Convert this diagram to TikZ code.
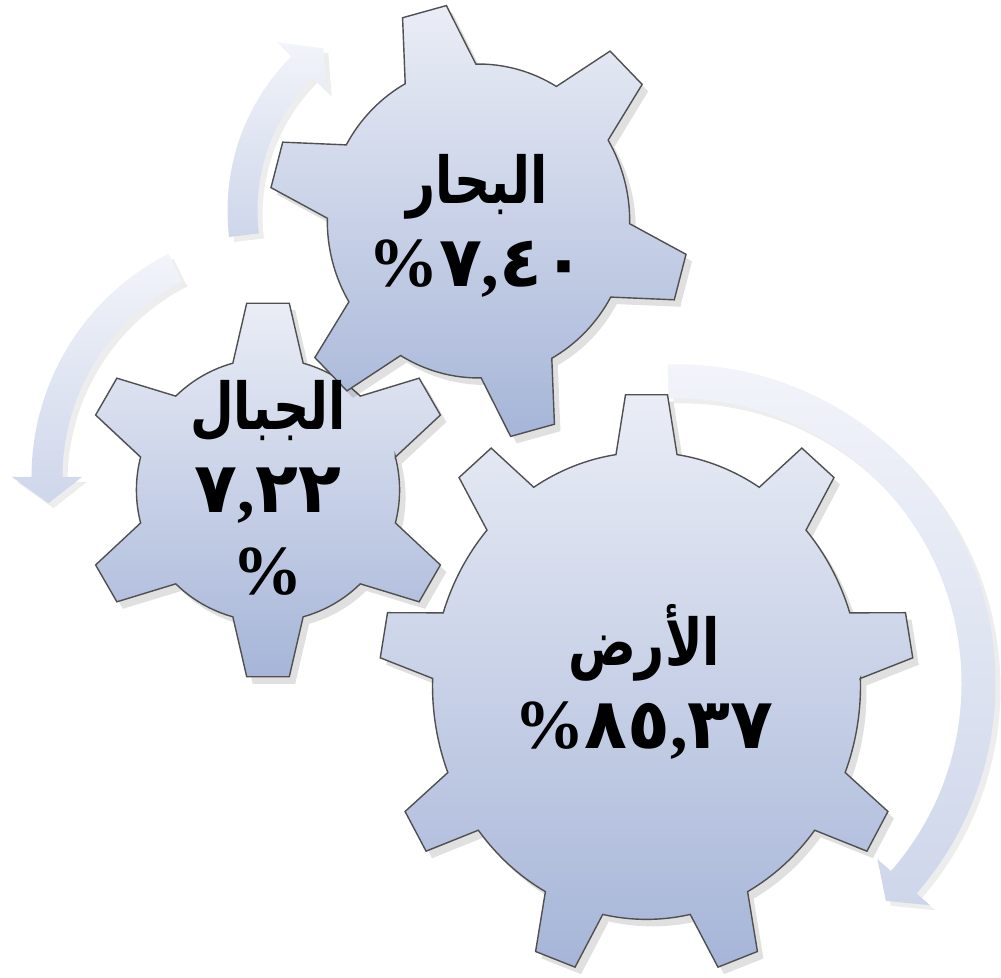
\documentclass[tikz,border=0pt]{standalone}
\usepackage{fontspec}
\setmainfont{Liberation Serif}
\newfontfamily\arabicfont[Script=Arabic, Scale=0.92, FakeStretch=0.78]{DejaVu Sans}
\newfontfamily\digitfont{DejaVu Sans}
\TeXXeTstate=1
\usetikzlibrary{calc}

\definecolor{geartop}{RGB}{234,237,246}
\definecolor{gearbot}{RGB}{166,181,216}
\definecolor{gearline}{RGB}{80,80,80}
\definecolor{arrowtop}{RGB}{242,244,250}
\definecolor{arrowbot}{RGB}{206,214,234}

\tikzset{
  gearbody/.style={draw=gearline, line width=0.4pt, top color=geartop, bottom color=gearbot},
  gearshadow/.style={fill=black, opacity=0.12},
  cyclearrow/.style={top color=arrowtop, bottom color=arrowbot},
  arrowshadow/.style={fill=black, opacity=0.07},
  gearlabel/.style={align=center, inner sep=0pt, font=\fontsize{20}{23.5}\selectfont\bfseries}
}

% #1 Mitte, #2 x-Radius, #3 y-Radius, #4 Zaehne, #5 erster Zahn, #6 Fusskreis, #7 halber Kopf, #8 halber Fuss
\newcommand{\drawgear}[8]{%
  \begin{scope}[shift={#1}, xshift=0.6mm, yshift=-0.7mm, xscale=#2, yscale=#3]
    \pgfmathsetmacro\gstep{360/#4}
    \fill[gearshadow] (#5-#8:#6)
      \foreach \k [evaluate=\k as \ga using #5+(\k-1)*\gstep] in {1,...,#4} {
        -- (\ga-#7:1) -- (\ga+#7:1) -- (\ga+#8:#6)
        arc[start angle=\ga+#8, end angle=\ga+\gstep-#8, radius=#6]
      } -- cycle;
  \end{scope}
  \begin{scope}[shift={#1}, xscale=#2, yscale=#3]
    \pgfmathsetmacro\gstep{360/#4}
    \path[gearbody] (#5-#8:#6)
      \foreach \k [evaluate=\k as \ga using #5+(\k-1)*\gstep] in {1,...,#4} {
        -- (\ga-#7:1) -- (\ga+#7:1) -- (\ga+#8:#6)
        arc[start angle=\ga+#8, end angle=\ga+\gstep-#8, radius=#6]
      } -- cycle;
  \end{scope}}

% #1 Mitte, #2 Radius, #3 halbe Breite, #4 Anfang, #5 Pfeilfuss, #6 Spitze
\newcommand{\drawarrow}[6]{%
  \begin{scope}[xshift=0.5mm, yshift=-0.5mm]
    \fill[arrowshadow] ($#1+(#4:{#2+#3})$) arc[start angle=#4, end angle=#5, radius={#2+#3}]
      -- ($#1+(#5:{#2+35})$) -- ($#1+(#6:#2)$) -- ($#1+(#5:{#2-35})$)
      -- ($#1+(#5:{#2-#3})$) arc[start angle=#5, end angle=#4, radius={#2-#3}] -- cycle;
  \end{scope}
  \path[cyclearrow] ($#1+(#4:{#2+#3})$) arc[start angle=#4, end angle=#5, radius={#2+#3}]
    -- ($#1+(#5:{#2+35})$) -- ($#1+(#6:#2)$) -- ($#1+(#5:{#2-35})$)
    -- ($#1+(#5:{#2-#3})$) arc[start angle=#5, end angle=#4, radius={#2-#3}] -- cycle;}

\begin{document}
\begin{tikzpicture}[x=0.1mm, y=0.1mm]
  \useasboundingbox (0,0) rectangle (1001,978);

  % Pfeile
  \drawarrow{(445.5,767.5)}{203}{15}{187}{135}{127}
  \drawarrow{(282,501)}{235}{15.5}{117}{180}{186.4}
  \drawarrow{(676.5,294.7)}{302}{17}{91.6}{-41.2}{-46.1}

  % Zahnraeder
  \drawgear{(268,488)}{188}{188}{6}{30}{0.70}{6.5}{15.5}
  \drawgear{(478.5,757)}{210}{218}{6}{45}{0.72}{6.2}{14}
  \drawgear{(646.5,292.2)}{267.5}{292}{9}{10}{0.80}{4.5}{8.2}

  % Beschriftungen
  \node[gearlabel] (bihar) at (477,752) {{\arabicfont\beginR البحار\endR}\\\%{\digitfont ٧},{\digitfont ٤٠}};
  \node[gearlabel] (jibal) at (268,490) {{\arabicfont\beginR الجبال\endR}\\{\digitfont ٧},{\digitfont ٢٢}\\\%};
  \node[gearlabel] (ard) at (644,296) {{\arabicfont\beginR الأرض\endR}\\\%{\digitfont ٨٥},{\digitfont ٣٧}};
\end{tikzpicture}
\end{document}
